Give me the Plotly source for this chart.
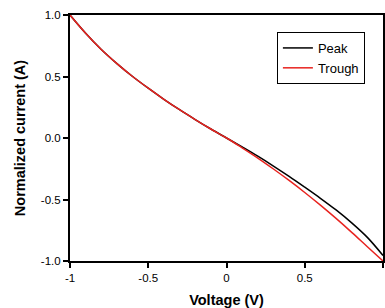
import plotly.graph_objects as go

voltage = [-1.0, -0.9, -0.8, -0.7, -0.6, -0.5, -0.4, -0.3, -0.2, -0.1, 0.0,
           0.1, 0.2, 0.3, 0.4, 0.5, 0.6, 0.7, 0.8, 0.9, 1.0]
peak = [1.0, 0.852, 0.72, 0.605, 0.50, 0.405, 0.315, 0.23, 0.15, 0.073, 0.0,
        -0.073, -0.148, -0.228, -0.312, -0.40, -0.49, -0.585, -0.69, -0.808, -0.955]
trough = [1.0, 0.852, 0.72, 0.605, 0.50, 0.405, 0.315, 0.23, 0.15, 0.073, 0.0,
          -0.08, -0.163, -0.252, -0.345, -0.443, -0.546, -0.654, -0.767, -0.884, -1.0]

x_ticks = [-1, -0.5, 0, 0.5, 1]
x_tick_labels = ["-1", "-0.5", "0", "0.5", "1"]
y_ticks = [-1, -0.5, 0, 0.5, 1]
y_tick_labels = ["-1.0", "-0.5", "0.0", "0.5", "1.0"]

fig = go.Figure()
fig.add_trace(go.Scatter(x=voltage, y=peak, mode="lines", name="Peak",
                         line=dict(color="black", width=1.5), line_shape="spline"))
fig.add_trace(go.Scatter(x=voltage, y=trough, mode="lines", name="Trough",
                         line=dict(color="#e8231f", width=1.5), line_shape="spline"))

font = "Liberation Sans, Arial, sans-serif"
fig.update_layout(
    width=385, height=308,
    margin=dict(l=70, r=2, t=15, b=47, autoexpand=False),
    paper_bgcolor="white", plot_bgcolor="white",
    font=dict(family=font, size=11.5, color="black"),
    showlegend=True,
    legend=dict(x=0.661, y=0.931, xanchor="left", yanchor="top",
                bordercolor="black", borderwidth=1, bgcolor="white",
                font=dict(size=13), tracegroupgap=0, itemwidth=30),
)
fig.update_xaxes(range=[-1, 1], tickvals=x_ticks, ticktext=x_tick_labels,
                 showgrid=False, zeroline=False, showline=True, linecolor="black",
                 linewidth=2, mirror=True, ticks="outside", ticklen=5, tickwidth=1.5,
                 tickcolor="black", automargin=False,
                 title=dict(text="<b>Voltage (V)</b>", font=dict(size=14.5), standoff=12))
fig.update_yaxes(range=[-1, 1], tickvals=y_ticks, ticktext=y_tick_labels,
                 showgrid=False, zeroline=False, showline=True, linecolor="black",
                 linewidth=2, mirror=True, ticks="outside", ticklen=5, tickwidth=1.5,
                 tickcolor="black", automargin=False,
                 title=dict(text="<b>Normalized current (A)</b>", font=dict(size=14.5), standoff=12))

fig.write_html("out.html", config={"displayModeBar": False},
               post_script="document.body.style.margin='0';")
